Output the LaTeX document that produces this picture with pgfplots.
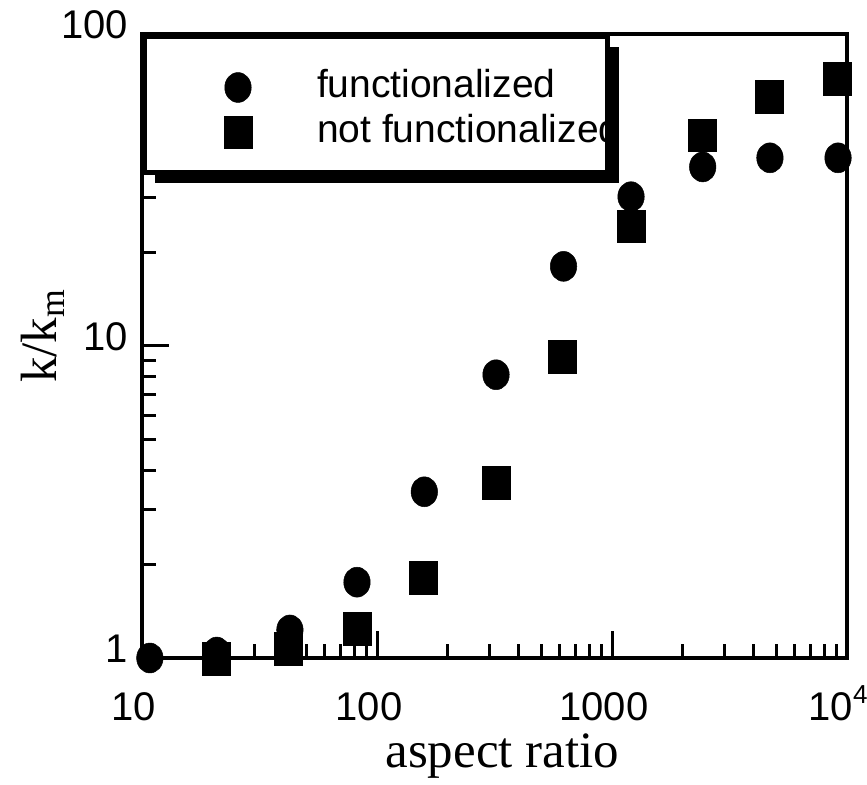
\documentclass[border=0pt]{standalone}
\usepackage{fontspec}
\setmainfont{Liberation Serif}
\newfontfamily\arial{Liberation Sans}
\usepackage{pgfplots}
\pgfplotsset{compat=1.18}
\pgfplotsset{
  legimgA/.style={legend image code/.code={\path[draw=none,fill=none] (-93.5bp,-22.5bp) rectangle (79bp,51bp); \draw[line width=0.5bp,##1] plot coordinates {(0bp,0bp)};}},
  legimgB/.style={legend image code/.code={\path[draw=none,fill=none] (-93.5bp,-40.5bp) rectangle (79bp,22.5bp); \draw[line width=0.5bp,##1] plot coordinates {(0bp,0bp)};}},
}

\begin{document}
\begin{tikzpicture}
\begin{axis}[
  scale only axis, width=705bp, height=624bp,
  xmode=log, ymode=log,
  xmin=10, xmax=10000, ymin=1, ymax=100,
  clip=false,
  axis line style={line width=4.5bp},
  xtick pos=bottom, ytick pos=left,
  tick align=inside,
  major tick length=27bp, minor tick length=14bp,
  every tick/.style={black, line width=3bp},
  xtick={10,100,1000,10000},
  xticklabels={10,100,1000,\hspace*{-16bp}10\rlap{\raisebox{17bp}{\fontsize{26bp}{26bp}\selectfont 4}}},
  minor xtick={20,30,40,50,60,70,80,90,200,300,400,500,600,700,800,900,2000,3000,4000,5000,6000,7000,8000,9000},
  ytick={1,10,100}, yticklabels={1,10,100},
  minor ytick={2,3,4,5,6,7,8,9,20,30,40,50,60,70,80,90},
  tick label style={font=\arial\fontsize{40bp}{48bp}\selectfont, inner sep=0pt},
  xticklabel style={anchor=base, yshift=-62bp, xshift=-8bp},
  yticklabel style={anchor=base east, xshift=-14bp, yshift=-4.5bp},
  xlabel={aspect ratio},
  ylabel={k/k\textsubscript{m}},
  label style={font=\fontsize{51bp}{60bp}\selectfont, inner sep=0pt},
  xlabel style={at={(axis description cs:0.511,-0.157)}, anchor=center},
  ylabel style={at={(axis description cs:-0.141,0.516)}, anchor=center},
  legend cell align=left,
  legend style={at={(0,1)}, anchor=north west, draw=black, line width=5bp, fill=white,
    inner xsep=0pt, inner ysep=0pt,
    nodes={inner sep=0pt, text depth=0pt, yshift=4bp},
    font=\arial\fontsize{39bp}{47bp}\selectfont},
]
\addplot[only marks, mark=*, mark size=13.25bp,
  mark options={yscale=1.13, fill=black, draw=black, line width=0.5bp}, legimgA]
  coordinates {(10.8,1.0) (20.8,1.045) (42.6,1.23) (82.2,1.75) (159,3.41) (321,8.09) (622,18.0) (1205,30.1) (2432,37.5) (4700,40.1) (9160,40.1)};
\addlegendentry{\makebox[290.5bp][l]{functionalized}}
\addplot[only marks, mark=square*, mark size=14bp,
  mark options={yscale=1.16, fill=black, draw=black, line width=0.5bp}, legimgB]
  coordinates {(20.8,0.996) (42.0,1.069) (82.2,1.24) (157.8,1.81) (321,3.65) (615,9.25) (1205,24.2) (2416,47.3) (4677,63.0) (9120,72.0)};
\addlegendentry{\makebox[290.5bp][l]{not functionalized}}
% legend drop shadow
\fill[black] ([xshift=13bp,yshift=-13bp]rel axis cs:0,1) rectangle ([xshift=476.5bp,yshift=-149.5bp]rel axis cs:0,1);
\end{axis}
\pgfresetboundingbox
\path (current axis.south west) ++(-142bp,-127bp) rectangle ++(867bp,785bp);
\end{tikzpicture}
\end{document}
